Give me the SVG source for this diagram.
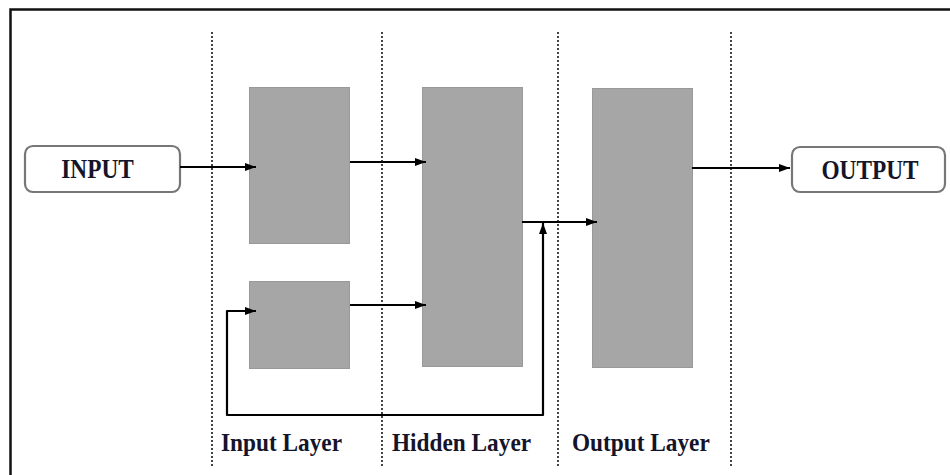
<svg xmlns="http://www.w3.org/2000/svg" width="950" height="475" viewBox="0 0 950 475">
<defs>
<marker id="ah" viewBox="0 0 11 8" refX="11" refY="4" markerWidth="11" markerHeight="8" markerUnits="userSpaceOnUse" orient="auto-start-reverse">
<path d="M0,0 L11,4 L0,8 Z" fill="#000"/>
</marker>
<style>
.frame{fill:none;stroke:#111;stroke-width:2.5}
.sep{stroke:#444;stroke-width:2;stroke-dasharray:2,2;fill:none}
.blk{fill:#a6a6a6;stroke:#999;stroke-width:1}
.term{fill:#fff;stroke:#777;stroke-width:2.2}
.lbl{font-family:"Liberation Serif","Times New Roman",serif;font-weight:bold;font-size:23.3px;fill:#14142a}
.con{fill:none;stroke:#000;stroke-width:2.2;marker-end:url(#ah)}
</style>
</defs>
<rect width="950" height="475" fill="#fff"/>
<path class="frame" d="M10.5,475 V9.5 H950"/>
<g id="separators">
<line class="sep" x1="212" y1="32" x2="212" y2="468"/>
<line class="sep" x1="382" y1="32" x2="382" y2="468"/>
<line class="sep" x1="558" y1="32" x2="558" y2="468"/>
<line class="sep" x1="731" y1="32" x2="731" y2="468"/>
</g>
<g id="input">
<rect class="term" x="25" y="146" width="155" height="46" rx="8"/>
<text class="lbl" transform="translate(97.5,178) scale(1,1.15)" text-anchor="middle">INPUT</text>
</g>
<g id="output">
<rect class="term" x="792" y="147" width="153" height="45" rx="8"/>
<text class="lbl" transform="translate(870,179) scale(1,1.15)" text-anchor="middle">OUTPUT</text>
</g>
<g id="input-block-1"><rect class="blk" x="249.5" y="87.5" width="100" height="156"/></g>
<g id="input-block-2"><rect class="blk" x="249.5" y="281.5" width="100" height="87"/></g>
<g id="hidden-block"><rect class="blk" x="422.5" y="87.5" width="100" height="279"/></g>
<g id="output-block"><rect class="blk" x="592.5" y="88.5" width="100" height="279"/></g>
<g id="connectors">
<path class="con" d="M180,167 H256"/>
<path class="con" d="M350,162 H426"/>
<path class="con" d="M350,305 H426"/>
<path class="con" d="M522,222 H597"/>
<path class="con" d="M692,168 H790"/>
<path class="con" d="M543,223 V415 H227 V311 H256" style="marker-start:url(#ah);stroke-linejoin:round"/>
</g>
<g id="layer-labels">
<text class="lbl" transform="translate(221,451) scale(1,1.12)">Input Layer</text>
<text class="lbl" transform="translate(392,451) scale(1,1.12)">Hidden Layer</text>
<text class="lbl" transform="translate(572,451) scale(1,1.12)">Output Layer</text>
</g>
</svg>
